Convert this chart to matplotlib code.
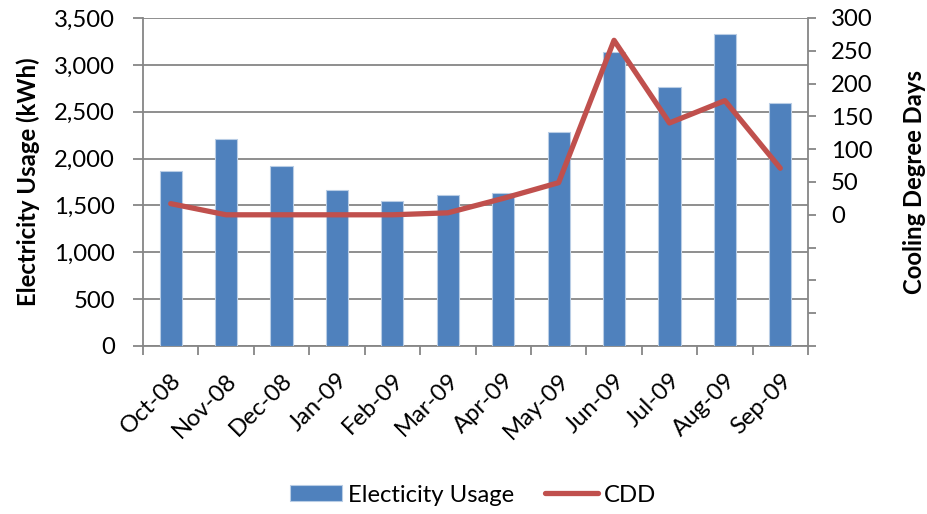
import matplotlib
matplotlib.use("Agg")
import matplotlib.pyplot as plt
import numpy as np

months = ["Oct-08", "Nov-08", "Dec-08", "Jan-09", "Feb-09", "Mar-09",
          "Apr-09", "May-09", "Jun-09", "Jul-09", "Aug-09", "Sep-09"]
usage_kwh = [1868, 2212, 1922, 1661, 1543, 1614, 1629, 2284, 3138, 2759, 3325, 2595]
cdd = [17, 0, 0, 0, 0, 3, 25, 49, 266, 140, 174, 71]

plt.rcParams['font.family'] = ['Lato', 'DejaVu Sans']
grey = "#868686"
bar_color = "#4F81BD"
line_color = "#C0504D"
fs = 17.2

fig = plt.figure(figsize=(9.27, 5.14), dpi=100)
ax = fig.add_axes([143/927, 1-346/514, (808-143)/927, (346-18)/514])
x = np.arange(len(months))

ax.bar(x, usage_kwh, width=0.4, color=bar_color, edgecolor="#B9CDE5",
       linewidth=0.8, zorder=3, label="Electicity Usage")
ax.set_xlim(-0.5, len(months) - 0.5)
ax.set_ylim(0, 3500)
ax.set_yticks(np.arange(0, 3501, 500))
ax.set_yticklabels([f"{v:,}" for v in range(0, 3501, 500)])
ax.yaxis.grid(True, color=grey, linewidth=1.3, zorder=0)
ax.set_axisbelow(True)

# category boundary ticks on x, labels centred under bars
ax.set_xticks(np.arange(-0.5, len(months), 1.0))
ax.set_xticklabels([])
ax.set_xticks(x, minor=True)
ax.set_xticklabels(months, minor=True, rotation=45, ha="right",
                   rotation_mode="anchor", fontsize=fs)
ax.tick_params(axis="x", which="minor", length=0, pad=17)
ax.tick_params(axis="x", which="major", length=6.5, width=1.3, color=grey)
ax.tick_params(axis="y", length=7, width=1.3, color=grey, labelsize=fs, pad=13)

for side in ["top", "right"]:
    ax.spines[side].set_visible(False)
for side in ["left", "bottom"]:
    ax.spines[side].set_color(grey)
    ax.spines[side].set_linewidth(1.3)

ax.set_ylabel("Electricity Usage (kWh)", fontsize=fs, fontweight="bold", labelpad=10)

ax2 = ax.twinx()
ax2.plot(x, cdd, color=line_color, linewidth=3.8, solid_capstyle="round",
         solid_joinstyle="round", zorder=4, label="CDD")
ax2.set_ylim(-200, 300)
ax2.set_yticks(np.arange(-200, 301, 50))
ax2.set_yticklabels([str(v) if v >= 0 else "" for v in range(-200, 301, 50)])
ax2.tick_params(axis="y", length=5.5, width=1.3, color=grey, labelsize=fs, pad=11)
for side in ["top", "left", "bottom"]:
    ax2.spines[side].set_visible(False)
ax2.spines["right"].set_color(grey)
ax2.spines["right"].set_linewidth(1.3)
ax2.set_ylabel("Cooling Degree Days", fontsize=fs, fontweight="bold", labelpad=22)

h1, l1 = ax.get_legend_handles_labels()
h2, l2 = ax2.get_legend_handles_labels()
fig.legend(h1 + h2, l1 + l2, loc="center", bbox_to_anchor=(473/927, 1-495/514),
           ncol=2, frameon=False, fontsize=fs, handlelength=2.2, handleheight=0.6,
           columnspacing=1.3, handletextpad=0.25)

fig.savefig("out.png", dpi=100)
